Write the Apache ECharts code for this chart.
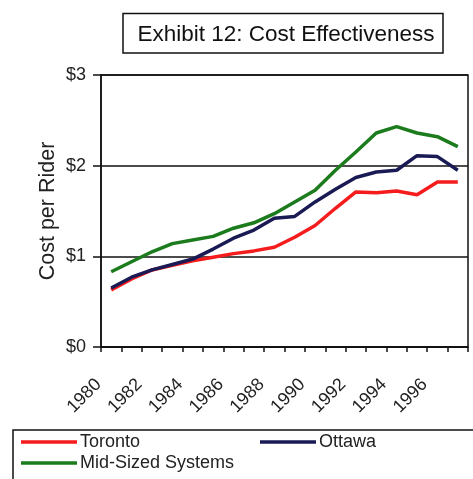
<!DOCTYPE html>
<html>
<head>
<meta charset="utf-8">
<script src="https://cdn.jsdelivr.net/npm/echarts@6/dist/echarts.min.js"></script>
<style>
html,body{margin:0;padding:0;background:#fff;}
#chart{width:473px;height:479px;}
</style>
</head>
<body>
<div id="chart"></div>
<script>
var years = ['1980','1981','1982','1983','1984','1985','1986','1987','1988','1989','1990','1991','1992','1993','1994','1995','1996','1997'];
var toronto = [0.63,0.75,0.85,0.90,0.95,0.99,1.03,1.06,1.10,1.21,1.34,1.53,1.71,1.70,1.72,1.68,1.82,1.82];
var ottawa = [0.65,0.77,0.85,0.91,0.97,1.08,1.20,1.29,1.42,1.44,1.60,1.74,1.87,1.93,1.95,2.11,2.10,1.95];
var midSized = [0.83,0.94,1.05,1.14,1.18,1.22,1.31,1.37,1.47,1.60,1.73,1.95,2.15,2.36,2.43,2.36,2.32,2.21];
var yTicks = [0,1,2,3];

var font = '"Liberation Sans", Arial, sans-serif';
var chart = echarts.init(document.getElementById('chart'));
function lineSeries(name, data, color){
  return {name:name, type:'line', data:data, symbol:'none', smooth:false,
    lineStyle:{color:color, width:3.5}, itemStyle:{color:color}};
}
function legendAt(name, left, top){
  return {data:[name], left:left, top:top, icon:'rect', itemWidth:56, itemHeight:3.5, itemGap:0,
    padding:0, textStyle:{fontFamily:font, fontSize:18, color:'#222', padding:[0,0,0,-2]}};
}
chart.setOption({
  animation:false,
  backgroundColor:'#fff',
  grid:{left:101, right:5, top:75, bottom:132, show:true, borderColor:'#111', borderWidth:1.5, backgroundColor:'#fff'},
  graphic:[
    {type:'rect', shape:{x:123, y:13.5, width:320, height:39.5}, style:{fill:'#fff', stroke:'#111', lineWidth:1.5}},
    {type:'text', x:286, y:35, style:{text:'Exhibit 12: Cost Effectiveness', font:'22.5px '+font, fill:'#111', align:'center', verticalAlign:'middle'}},
    {type:'rect', shape:{x:13, y:430, width:480, height:70}, style:{fill:'none', stroke:'#111', lineWidth:1.5}}
  ],
  legend:[legendAt('Toronto',21,433), legendAt('Ottawa',260,433), legendAt('Mid-Sized Systems',21,454)],
  xAxis:{type:'category', data:years, boundaryGap:true,
    axisLine:{lineStyle:{color:'#111', width:1.5}},
    axisTick:{show:true, interval:0, length:5, lineStyle:{color:'#111', width:1.5}},
    axisLabel:{interval:1, rotate:45, margin:22, padding:[0,18,0,0], fontFamily:font, fontSize:18, color:'#222'},
    splitLine:{show:false}},
  yAxis:{type:'value', min:yTicks[0], max:yTicks[yTicks.length-1], interval:1,
    name:'Cost per Rider', nameLocation:'middle', nameGap:42, nameMoveOverlap:false,
    nameTextStyle:{fontFamily:font, fontSize:21.5, color:'#222'},
    axisLine:{show:true, lineStyle:{color:'#111', width:1.5}},
    axisTick:{show:true, length:8, lineStyle:{color:'#111', width:1.5}},
    axisLabel:{formatter:function(v){return '$'+v;}, margin:15, fontFamily:font, fontSize:18, color:'#222'},
    splitLine:{show:true, lineStyle:{color:'#111', width:1.5}}},
  series:[
    lineSeries('Toronto', toronto, '#f41c1c'),
    lineSeries('Ottawa', ottawa, '#1a1a55'),
    lineSeries('Mid-Sized Systems', midSized, '#1c7b1c')
  ]
});
</script>
</body>
</html>
